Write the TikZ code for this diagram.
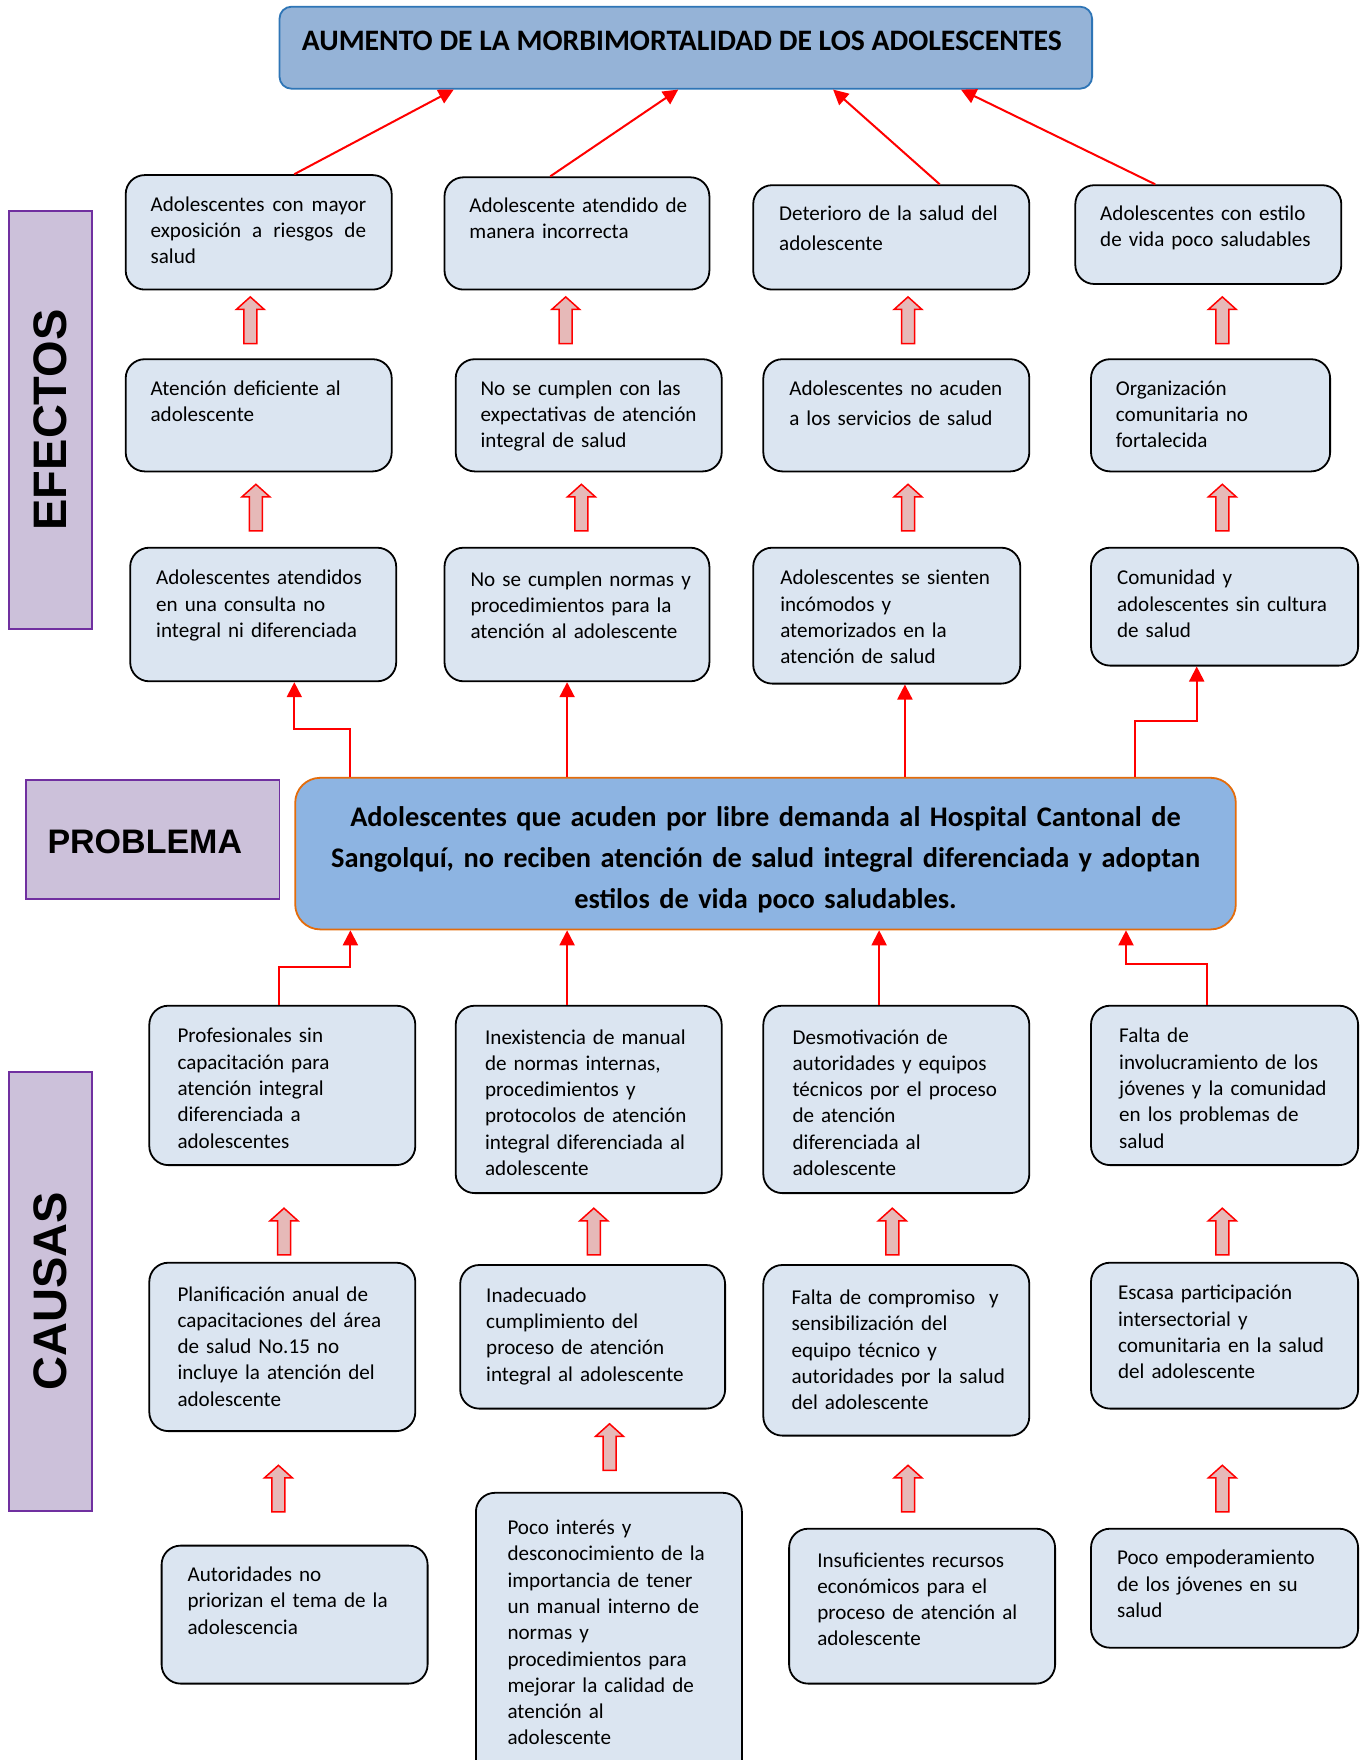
\documentclass[tikz,border=0pt]{standalone}
\usepackage{fontspec}
\setmainfont{Carlito}
\newfontfamily\bodyfont{Carlito}
\newfontfamily\labfont{Liberation Sans}
\usetikzlibrary{arrows.meta,fit}
\definecolor{boxfill}{HTML}{DBE5F1}
\definecolor{titlefill}{HTML}{95B3D7}
\definecolor{titleedge}{HTML}{2E75B6}
\definecolor{probfill}{HTML}{8DB4E2}
\definecolor{probedge}{HTML}{E46C0A}
\definecolor{labfill}{HTML}{CCC1DA}
\definecolor{labedge}{HTML}{7030A0}
\definecolor{arrowpink}{HTML}{E6B9B8}
\tikzset{
  box/.style={draw=black, line width=1.8pt, fill=boxfill, rounded corners=19pt, inner sep=0pt},
  lab/.style={draw=labedge, line width=1.8pt, fill=labfill, inner sep=0pt},
  txt/.style={anchor=base west, align=left, text width=300pt, inner sep=0pt, font=\bodyfont\fontsize{21.1}{26.3}\selectfont},
  txtw/.style={txt, font=\bodyfont\fontsize{21.1}{30.3}\selectfont},
  labtxt/.style={inner sep=0pt, font=\labfont\bfseries\fontsize{47}{50}\selectfont},
  conn/.style={draw=red, line width=2pt, -{Triangle[length=15pt,width=15pt]}},
  barrow/.style={draw=red, fill=arrowpink, line width=1.5pt},
  uparrow/.pic={\draw[barrow] (-6.5,0) -- (-6.5,-34) -- (-14,-34) -- (0,-46.6) -- (14,-34) -- (6.5,-34) -- (6.5,0) -- cycle;}
}
\begin{document}
\begin{tikzpicture}[x=1pt,y=-1pt]
\fill[white] (0,0) rectangle (1366,1760);
\useasboundingbox (0,0) rectangle (1366,1760);
\clip (0,0) rectangle (1366,1760);

% title
\node[draw=titleedge, line width=1.8pt, fill=titlefill, rounded corners=12pt, inner sep=0pt, fit={(279.5,6.7) (1092.1,88.7)}] (T) {};
\node[inner sep=0pt, font=\bfseries\fontsize{29.7}{34}\selectfont] (Tt) at (681.9,40.4) {AUMENTO DE LA MORBIMORTALIDAD DE LOS ADOLESCENTES};

% side labels
\node[lab, fit={(9,211) (92,628.6)}] (EF) {};
\node[labtxt, rotate=90] (EFt) at (EF.center) {EFECTOS};
\node[lab, fit={(25.8,780) (279.5,899)}] (PR) {};
\node[inner sep=0pt, font=\labfont\bfseries\fontsize{34}{38}\selectfont] (PRt) at (144.8,841.8) {PROBLEMA};
\node[lab, fit={(9,1071.9) (92,1510.8)}] (CA) {};
\node[labtxt, rotate=90] (CAt) at (CA.center) {CAUSAS};

% problem
\node[draw=probedge, line width=1.8pt, fill=probfill, rounded corners=25pt, inner sep=0pt, fit={(295.2,777.8) (1235.8,929.4)}] (P) {};
\node[anchor=base, align=center, text width=940pt, inner sep=0pt, font=\bfseries\fontsize{28.4}{41}\selectfont] (Pt) at (765.5,826) {Adolescentes que acuden por libre demanda al Hospital Cantonal de\\Sangolquí, no reciben atención de salud integral diferenciada y adoptan\\estilos de vida poco saludables.};

% effects row 1
\node[box, fit={(125.7,175.1) (391.7,289.6)}] (ea1) {};
\node[box, fit={(444.5,177.3) (709.4,289.6)}] (ea2) {};
\node[box, fit={(753.2,185.2) (1029.3,289.6)}] (ea3) {};
\node[box, fit={(1075.3,185.2) (1341.3,284.0)}] (ea4) {};
\node[txt] (ea1t) at (150.4,211.2) {\makebox[215.5pt][l]{Adolescentes\hfill con\hfill mayor}\\\makebox[215.5pt][l]{exposición\hfill a\hfill riesgos\hfill de}\\salud};
\node[txt] (ea2t) at (469.2,212.3) {Adolescente atendido de\\manera incorrecta};
\node[txtw] (ea3t) at (779.0,220.1) {Deterioro de la salud del\\adolescente};
\node[txt] (ea4t) at (1100.0,220.1) {Adolescentes con estilo\\de vida poco saludables};

% effects row 2
\node[box, fit={(125.7,359.2) (391.7,471.4)}] (eb1) {};
\node[box, fit={(455.7,359.2) (721.7,471.4)}] (eb2) {};
\node[box, fit={(763.3,359.2) (1029.3,471.4)}] (eb3) {};
\node[box, fit={(1091.0,359.2) (1330.1,471.4)}] (eb4) {};
\node[txt] (eb1t) at (150.4,395.2) {Atención deficiente al\\adolescente};
\node[txt] (eb2t) at (480.4,395.2) {No se cumplen con las\\expectativas de atención\\integral de salud};
\node[txtw] (eb3t) at (789.1,395.2) {Adolescentes no acuden\\a los servicios de salud};
\node[txt] (eb4t) at (1115.7,395.2) {Organización\\comunitaria no\\fortalecida};

% effects row 3
\node[box, fit={(130.2,547.7) (396.2,681.3)}] (ec1) {};
\node[box, fit={(444.5,547.7) (709.4,681.3)}] (ec2) {};
\node[box, fit={(753.2,547.7) (1020.3,683.6)}] (ec3) {};
\node[box, fit={(1091.0,547.7) (1358.1,665.6)}] (ec4) {};
\node[txt] (ec1t) at (156.0,584.9) {Adolescentes atendidos\\en una consulta no\\integral ni diferenciada};
\node[txt] (ec2t) at (470.3,586.0) {No se cumplen normas y\\procedimientos para la\\atención al adolescente};
\node[txt] (ec3t) at (780.1,584.9) {Adolescentes se sienten\\incómodos y\\atemorizados en la\\atención de salud};
\node[txt] (ec4t) at (1116.8,584.9) {Comunidad y\\adolescentes sin cultura\\de salud};

% causes row 1
\node[box, fit={(149.3,1005.7) (415.3,1165.1)}] (ca1) {};
\node[box, fit={(455.7,1005.7) (721.7,1193.1)}] (ca2) {};
\node[box, fit={(763.3,1005.7) (1029.3,1193.1)}] (ca3) {};
\node[box, fit={(1091.0,1005.7) (1358.1,1165.1)}] (ca4) {};
\node[txt] (ca1t) at (177.3,1042.9) {Profesionales sin\\capacitación para\\atención integral\\diferenciada a\\adolescentes};
\node[txt] (ca2t) at (484.9,1044.0) {Inexistencia de manual\\de normas internas,\\procedimientos y\\protocolos de atención\\integral diferenciada al\\adolescente};
\node[txt] (ca3t) at (792.4,1044.0) {Desmotivación de\\autoridades y equipos\\técnicos por el proceso\\de atención\\diferenciada al\\adolescente};
\node[txt] (ca4t) at (1119.0,1042.9) {Falta de\\involucramiento de los\\jóvenes y la comunidad\\en los problemas de\\salud};

% causes row 2
\node[box, fit={(149.3,1262.7) (415.3,1431.1)}] (cb1) {};
\node[box, fit={(460.2,1265.0) (725.1,1408.6)}] (cb2) {};
\node[box, fit={(763.3,1265.0) (1029.3,1435.6)}] (cb3) {};
\node[box, fit={(1091.0,1262.7) (1358.1,1408.6)}] (cb4) {};
\node[txt] (cb1t) at (177.3,1301.0) {Planificación anual de\\capacitaciones del área\\de salud No.15 no\\incluye la atención del\\adolescente};
\node[txt] (cb2t) at (486.0,1302.2) {Inadecuado\\cumplimiento del\\proceso de atención\\integral al adolescente};
\node[txt] (cb3t) at (791.3,1304.4) {Falta de compromiso~ y\\sensibilización del\\equipo técnico y\\autoridades por la salud\\del adolescente};
\node[txt] (cb4t) at (1117.9,1299.9) {Escasa participación\\intersectorial y\\comunitaria en la salud\\del adolescente};

% causes row 3
\node[box, fit={(161.6,1545.6) (427.6,1683.6)}] (cc1) {};
\node[box, fit={(475.9,1492.8) (741.9,1790)}] (cc2) {};
\node[box, fit={(789.1,1528.7) (1055.1,1683.6)}] (cc3) {};
\node[box, fit={(1091.0,1528.7) (1358.1,1647.7)}] (cc4) {};
\node[txt] (cc1t) at (187.4,1581.6) {Autoridades no\\priorizan el tema de la\\adolescencia};
\node[txt] (cc2t) at (507.3,1534.5) {Poco interés y\\desconocimiento de la\\importancia de tener\\un manual interno de\\normas y\\procedimientos para\\mejorar la calidad de\\atención al\\adolescente};
\node[txt] (cc3t) at (817.1,1567.0) {Insuficientes recursos\\económicos para el\\proceso de atención al\\adolescente};
\node[txt] (cc4t) at (1116.8,1564.8) {Poco empoderamiento\\de los jóvenes en su\\salud};

% block arrows
\pic (ua1) at (250.3,343.5) {uparrow};
\pic (ua2) at (565.7,343.5) {uparrow};
\pic (ua3) at (908.0,343.5) {uparrow};
\pic (ua4) at (1222.3,343.5) {uparrow};
\pic (ub1) at (255.9,530.9) {uparrow};
\pic (ub2) at (581.4,530.9) {uparrow};
\pic (ub3) at (908.0,530.9) {uparrow};
\pic (ub4) at (1222.3,530.9) {uparrow};
\pic (uc1) at (284.0,1254.8) {uparrow};
\pic (uc2) at (593.8,1254.8) {uparrow};
\pic (uc3) at (892.3,1254.8) {uparrow};
\pic (uc4) at (1222.3,1254.8) {uparrow};
\pic (ud1) at (278.4,1511.9) {uparrow};
\pic (ud2) at (609.5,1470.4) {uparrow};
\pic (ud3) at (908.0,1511.9) {uparrow};
\pic (ud4) at (1222.3,1511.9) {uparrow};

% connectors effects -> title
\draw[conn] ([xshift=169.5pt]ea1.north west) -- ([xshift=175.1pt]T.south west);
\draw[conn] ([xshift=106.6pt]ea2.north west) -- ([xshift=399.6pt]T.south west);
\draw[conn] ([xshift=187.4pt]ea3.north west) -- ([xshift=554.5pt]T.south west);
\draw[conn] ([xshift=80.8pt]ea4.north west) -- ([xshift=682.4pt]T.south west);

% problem -> effects row 3
\draw[conn] ([xshift=56.1pt]P.north west) -- ++(0,-48.2) -| ([xshift=165pt]ec1.south west);
\draw[conn] ([xshift=272.8pt]P.north west) -- ([xshift=123.5pt]ec2.south west);
\draw[conn] ([xshift=610.6pt]P.north west) -- ([xshift=152.6pt]ec3.south west);
\draw[conn] ([xshift=840.7pt]P.north west) -- ++(0,-56.1) -| ([xshift=106.6pt]ec4.south west);

% causes row 1 -> problem
\draw[conn] ([xshift=130.2pt]ca1.north west) -- ++(0,-38.2) -| ([xshift=56.1pt]P.south west);
\draw[conn] ([xshift=112.3pt]ca2.north west) -- ([xshift=272.8pt]P.south west);
\draw[conn] ([xshift=116.7pt]ca3.north west) -- ([xshift=584.8pt]P.south west);
\draw[conn] ([xshift=116.7pt]ca4.north west) -- ++(0,-40.4) -| ([xshift=831.7pt]P.south west);
\end{tikzpicture}
\end{document}
